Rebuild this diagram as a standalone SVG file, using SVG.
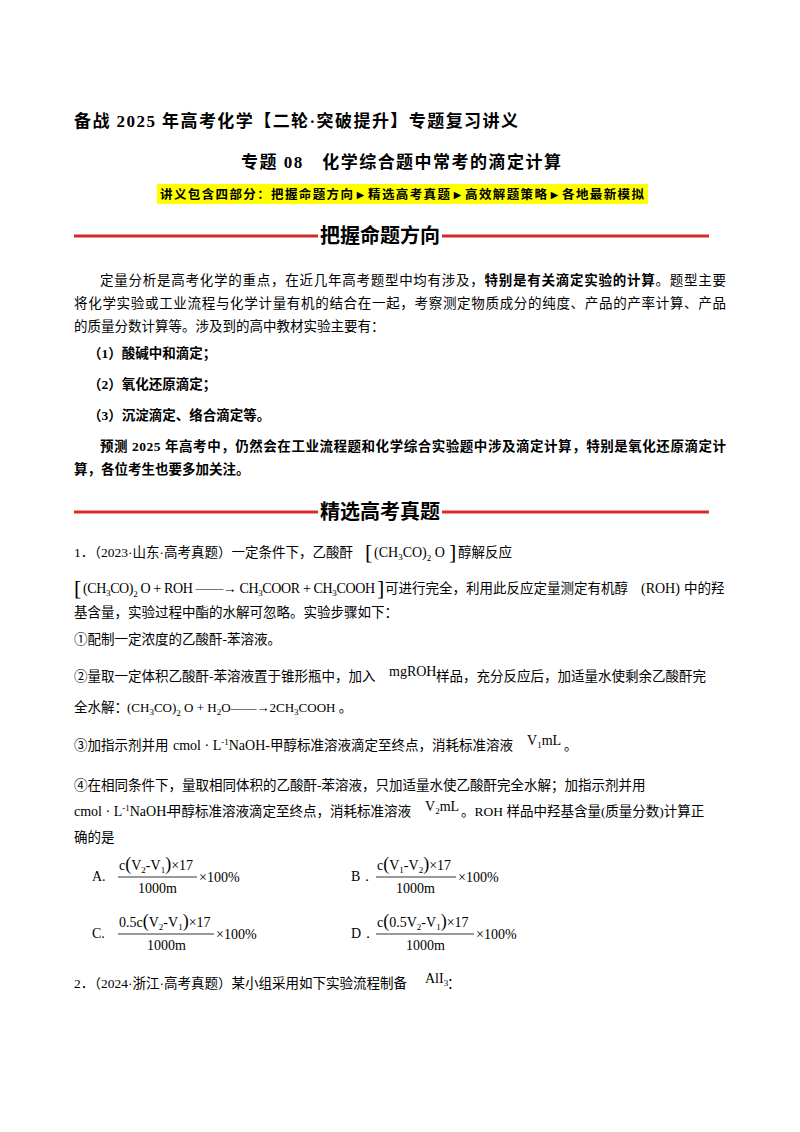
<svg xmlns="http://www.w3.org/2000/svg" width="800" height="1132" viewBox="0 0 800 1132">
<style>
text{font-family:"Liberation Serif","Noto Sans CJK SC",serif;fill:#000;font-size:13.5px}
.b{font-weight:bold}
.t{font-size:17px;font-weight:bold}
.y{font-size:12.5px;font-weight:bold}
.h{font-family:"Noto Sans CJK SC",sans-serif;font-weight:bold;font-size:20px}
.m{font-family:"Liberation Serif",serif;font-size:14px}
.m2{font-family:"Liberation Serif",serif;font-size:13px}
.cj{font-family:"Liberation Serif","Noto Sans CJK SC",serif;font-size:13.5px}
.s{font-size:9px}
.p{font-size:18px}
.k{font-size:22px;font-family:"Liberation Serif",serif}
.rl{stroke:#d42a2a;stroke-width:3}
</style>
<rect width="800" height="1132" fill="#fff"/>
<g id="header">
<text class="t" x="74" y="127" textLength="444">备战 2025 年高考化学【二轮·突破提升】专题复习讲义</text>
<text class="t" x="401" y="168" text-anchor="middle" textLength="320">专题 08　化学综合题中常考的滴定计算</text>
<rect x="157" y="184" width="491" height="20" fill="#ffff00"/>
<text class="y" x="402" y="199" text-anchor="middle" textLength="484">讲义包含四部分：把握命题方向►精选高考真题►高效解题策略►各地最新模拟</text>
</g>
<g id="banner1">
<line class="rl" x1="74" y1="236" x2="318" y2="236"/>
<line class="rl" x1="442" y1="236" x2="709" y2="236"/>
<text class="h" x="380" y="243" text-anchor="middle">把握命题方向</text>
</g>
<g id="intro">
<text x="100" y="285" textLength="626">定量分析是高考化学的重点，在近几年高考题型中均有涉及，<tspan class="b">特别是有关滴定实验的计算</tspan>。题型主要</text>
<text x="74" y="308" textLength="652">将化学实验或工业流程与化学计量有机的结合在一起，考察测定物质成分的纯度、产品的产率计算、产品</text>
<text x="74" y="331">的质量分数计算等。涉及到的高中教材实验主要有：</text>
<text class="b" x="88" y="358">（1）酸碱中和滴定；</text>
<text class="b" x="88" y="389">（2）氧化还原滴定；</text>
<text class="b" x="88" y="420">（3）沉淀滴定、络合滴定等。</text>
<text class="b" x="100" y="451" textLength="626">预测 2025 年高考中，仍然会在工业流程题和化学综合实验题中涉及滴定计算，特别是氧化还原滴定计</text>
<text class="b" x="74" y="474">算，各位考生也要多加关注。</text>
</g>
<g id="banner2">
<line class="rl" x1="74" y1="512" x2="318" y2="512"/>
<line class="rl" x1="442" y1="512" x2="709" y2="512"/>
<text class="h" x="380" y="519" text-anchor="middle">精选高考真题</text>
</g>
<g id="q1">
<text x="74" y="557">1．（2023·山东·高考真题）一定条件下，乙酸酐</text>
<text class="k" x="365" y="559">[</text><text class="m" x="374" y="557">(CH<tspan class="s" dy="3">3</tspan><tspan dy="-3">CO)</tspan><tspan class="s" dy="4">2</tspan><tspan dy="-4"> O</tspan></text><text class="k" x="449" y="559">]</text>
<text x="458" y="557">醇解反应</text>
<text class="k" x="74" y="595">[</text>
<text class="m" x="83" y="593" textLength="292">(CH<tspan class="s" dy="3">3</tspan><tspan dy="-3">CO)</tspan><tspan class="s" dy="4">2</tspan><tspan dy="-4"> O + ROH ——→ CH</tspan><tspan class="s" dy="3">3</tspan><tspan dy="-3">COOR + CH</tspan><tspan class="s" dy="3">3</tspan><tspan dy="-3">COOH</tspan></text>
<text class="k" x="377" y="595">]</text>
<text x="385" y="593">可进行完全，利用此反应定量测定有机醇</text>
<text class="m" x="641" y="593">(ROH)</text><text x="684" y="593">中的羟</text>
<text x="74" y="617">基含量，实验过程中酯的水解可忽略。实验步骤如下：</text>
<text x="74" y="644">①配制一定浓度的乙酸酐-苯溶液。</text>
<text x="74" y="681">②量取一定体积乙酸酐-苯溶液置于锥形瓶中，加入</text><text class="m" x="389" y="676">mgROH</text><text x="436" y="681">样品，充分反应后，加适量水使剩余乙酸酐完</text>
<text x="74" y="712">全水解：</text><text class="m2" x="127" y="712">(CH<tspan class="s" dy="3">3</tspan><tspan dy="-3">CO)</tspan><tspan class="s" dy="4">2</tspan><tspan dy="-4"> O + H</tspan><tspan class="s" dy="3">2</tspan><tspan dy="-3">O——→2CH</tspan><tspan class="s" dy="3">3</tspan><tspan dy="-3">COOH </tspan><tspan class="cj">。</tspan></text>
<text x="74" y="750">③加指示剂并用</text><text class="m" x="173" y="750">cmol · L<tspan class="s" dy="-5">-1</tspan><tspan dy="5">NaOH-</tspan></text><text x="270" y="750">甲醇标准溶液滴定至终点，消耗标准溶液</text><text class="m" x="527" y="745">V<tspan class="s" dy="3">1</tspan><tspan dy="-3">mL</tspan></text><text x="564" y="750">。</text>
<text x="74" y="790">④在相同条件下，量取相同体积的乙酸酐-苯溶液，只加适量水使乙酸酐完全水解；加指示剂并用</text>
<text class="m" x="74" y="816">cmol · L<tspan class="s" dy="-5">-1</tspan><tspan dy="5">NaOH-</tspan></text><text x="168" y="816">甲醇标准溶液滴定至终点，消耗标准溶液</text><text class="m" x="425" y="811">V<tspan class="s" dy="3">2</tspan><tspan dy="-3">mL</tspan></text><text x="461" y="816">。ROH 样品中羟基含量(质量分数)计算正</text>
<text x="74" y="842">确的是</text>
</g>
<g id="options">
<text class="m" x="92" y="881">A.</text>
<text class="m" x="119" y="870">c<tspan class="p">(</tspan>V<tspan class="s" dy="3">2</tspan><tspan dy="-3">-V</tspan><tspan class="s" dy="3">1</tspan><tspan dy="-3" class="p">)</tspan>×17</text>
<line x1="118" y1="877" x2="197" y2="877" stroke="#000" stroke-width="0.8"/>
<text class="m" x="138" y="893">1000m</text><text class="m" x="199" y="882">×100%</text>
<text class="m" x="351" y="881">B．</text>
<text class="m" x="377" y="870">c<tspan class="p">(</tspan>V<tspan class="s" dy="3">1</tspan><tspan dy="-3">-V</tspan><tspan class="s" dy="3">2</tspan><tspan dy="-3" class="p">)</tspan>×17</text>
<line x1="376" y1="877" x2="456" y2="877" stroke="#000" stroke-width="0.8"/>
<text class="m" x="396" y="893">1000m</text><text class="m" x="458" y="882">×100%</text>
<text class="m" x="92" y="938">C.</text>
<text class="m" x="119" y="927">0.5c<tspan class="p">(</tspan>V<tspan class="s" dy="3">2</tspan><tspan dy="-3">-V</tspan><tspan class="s" dy="3">1</tspan><tspan dy="-3" class="p">)</tspan>×17</text>
<line x1="118" y1="934" x2="214" y2="934" stroke="#000" stroke-width="0.8"/>
<text class="m" x="147" y="950">1000m</text><text class="m" x="216" y="939">×100%</text>
<text class="m" x="351" y="938">D．</text>
<text class="m" x="377" y="927">c<tspan class="p">(</tspan>0.5V<tspan class="s" dy="3">2</tspan><tspan dy="-3">-V</tspan><tspan class="s" dy="3">1</tspan><tspan dy="-3" class="p">)</tspan>×17</text>
<line x1="376" y1="934" x2="474" y2="934" stroke="#000" stroke-width="0.8"/>
<text class="m" x="406" y="950">1000m</text><text class="m" x="476" y="939">×100%</text>
</g>
<g id="q2">
<text x="74" y="988">2．（2024·浙江·高考真题）某小组采用如下实验流程制备</text><text class="m" x="425" y="983">AlI<tspan class="s" dy="3">3</tspan></text><text x="447" y="988">：</text>
</g>
</svg>
